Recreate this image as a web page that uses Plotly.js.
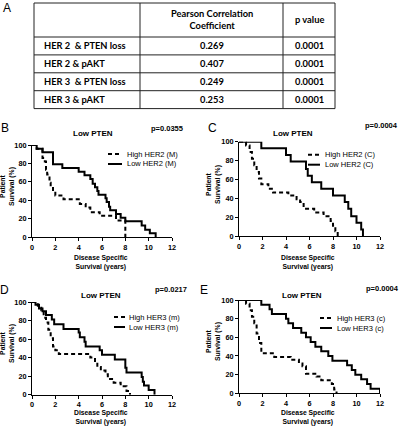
<!DOCTYPE html>
<html><head><meta charset="utf-8">
<script src="https://cdn.plot.ly/plotly-3.0.1.min.js"></script>
<style>html,body{margin:0;padding:0;background:#fff}#chart{width:400px;height:429px}</style>
</head><body><div id="chart"></div>
<script>
// ---------- Table (panel A) ----------
const tableHeader = ['', 'Pearson Correlation<br>Coefficient', 'p value'];
const tableRowLabels = ['HER 2\u00a0 & PTEN loss', 'HER 2 & pAKT', 'HER 3\u00a0 & PTEN loss', 'HER 3 & pAKT'];
const pearsonCoeffs = ['0.269', '0.407', '0.249', '0.253'];
const pValues = ['0.0001', '0.0001', '0.0001', '0.0001'];

// ---------- Kaplan-Meier data (years, % survival) ----------
// B: HER2 (M)
const highHER2M_t = [0, 0.4, 0.9, 1.1, 1.2, 1.3, 1.5, 1.6, 1.8, 2.0, 2.7, 4.1, 4.6, 5.0, 5.8, 7.2, 8.0];
const highHER2M_s = [100, 96, 86, 82, 73, 68, 59, 55, 50, 45, 41, 36, 32, 27, 23, 18, 0];
const lowHER2M_t = [0, 0.4, 0.9, 1.8, 2.6, 4.0, 4.5, 5.0, 5.2, 5.4, 5.6, 5.7, 6.3, 6.4, 6.6, 6.7, 7.2, 7.6, 8.0, 9.4, 9.7, 10.1, 10.6];
const lowHER2M_s = [100, 96, 92, 79, 75, 71, 67, 63, 58, 54, 50, 46, 42, 38, 33, 29, 25, 21, 17, 12.5, 8, 4, 0];
// C: HER2 (C)
const highHER2C_t = [0, 0.6, 0.9, 1.1, 1.3, 1.5, 1.7, 1.9, 2.5, 2.9, 4.2, 4.9, 5.2, 5.5, 6.4, 7.2, 7.8, 8.0, 8.2, 8.4];
const highHER2C_s = [100, 96, 89, 82, 75, 68, 61, 55, 50, 46, 43, 39, 36, 29, 25, 21, 16, 11, 5, 0];
const lowHER2C_t = [0, 1.9, 4.0, 4.4, 5.7, 5.85, 6.2, 7.0, 8.0, 9.0, 9.3, 9.55, 10.0, 10.4, 10.55];
const lowHER2C_s = [100, 93, 86, 79, 71, 64, 57, 50, 43, 36, 29, 21, 14, 7, 0];
// D: HER3 (m)
const highHER3m_t = [0, 0.5, 0.8, 1.0, 1.2, 1.4, 1.6, 1.8, 2.0, 2.3, 5.0, 5.4, 5.6, 5.9, 6.3, 6.5, 7.0, 7.6, 8.1, 8.4];
const highHER3m_s = [100, 96, 91, 83, 78, 70, 61, 52, 48, 44, 40, 35, 30, 26, 22, 17, 13, 9, 4, 0];
const lowHER3m_t = [0, 0.3, 0.6, 0.9, 1.2, 1.7, 1.9, 2.7, 4.0, 4.1, 4.5, 4.6, 5.8, 6.0, 7.1, 8.0, 8.1, 9.4, 9.5, 9.6, 10.0, 10.5];
const lowHER3m_s = [100, 97, 93, 90, 86, 81, 76, 71, 67, 62, 57, 52, 48, 43, 38, 29, 24, 19, 14, 10, 5, 0];
// E: HER3 (c)
const highHER3c_t = [0, 0.6, 0.9, 1.1, 1.3, 1.5, 1.7, 1.9, 3.0, 4.4, 5.1, 5.4, 5.7, 6.6, 7.0, 7.9, 8.1, 8.3];
const highHER3c_s = [100, 96, 89, 82, 75, 64, 54, 43, 39, 36, 32, 29, 21, 18, 14, 10, 4, 0];
const lowHER3c_t = [0, 1.9, 2.6, 2.8, 4.0, 4.2, 4.6, 5.3, 5.7, 6.1, 6.5, 7.0, 7.6, 7.95, 9.2, 9.6, 9.9, 10.4, 10.9, 11.2, 12.0];
const lowHER3c_s = [100, 95, 90, 85, 80, 75, 70, 65, 60, 55, 50, 45, 40, 35, 30, 25, 20, 15, 10, 5, 0];

const panelLetters = ['B', 'C', 'D', 'E'];
const panelTitles = ['Low PTEN', 'Low PTEN', 'Low PTEN', 'Low PTEN'];
const panelPValues = ['p=0.0355', 'p=0.0004', 'p=0.0217', 'p=0.0004'];
const highNames = ['High HER2 (M)', 'High HER2 (C)', 'High HER3 (m)', 'High HER3 (c)'];
const lowNames = ['Low HER2 (M)', 'Low HER2 (C)', 'Low HER3 (m)', 'Low HER3 (c)'];
const xTicks = [0, 2, 4, 6, 8, 10, 12];
const yTicks = [0, 20, 40, 60, 80, 100];
const xTitle = 'Disease Specific<br>Survival (years)';
const yTitle = 'Patient<br>Survival (%)';

// ---------- layout geometry (pixels) ----------
const W = 400, H = 429;
const px = v => v / W, py = v => 1 - v / H;
const boxes = [
  {l: 32, r: 172, t: 145, b: 237, letter: [5, 128], title: [93, 133], p: [167, 128], yt: [7, 187], xt: [101, 262], lg: [108, 122, 125, 154, 164]},
  {l: 239, r: 380, t: 141.7, b: 236, letter: [212, 128], title: [293, 133], p: [381, 125], yt: [214, 185], xt: [308, 262], lg: [308, 320, 323, 154.7, 164.7]},
  {l: 32, r: 172, t: 302, b: 394.7, letter: [4, 290], title: [101, 295], p: [171, 289], yt: [7, 344], xt: [101, 417], lg: [114, 125, 127, 317, 327]},
  {l: 239, r: 380, t: 300, b: 393.3, letter: [204, 290], title: [302, 295], p: [382, 288.5], yt: [213, 342], xt: [308, 417], lg: [320, 332, 335, 318, 328]}
];
const series = [
  [highHER2M_t, highHER2M_s, lowHER2M_t, lowHER2M_s],
  [highHER2C_t, highHER2C_s, lowHER2C_t, lowHER2C_s],
  [highHER3m_t, highHER3m_s, lowHER3m_t, lowHER3m_s],
  [highHER3c_t, highHER3c_s, lowHER3c_t, lowHER3c_s]
];

const FONT = 'Liberation Sans, Arial, sans-serif';
const TFONT = 'Lato, Carlito, sans-serif';
const dashStyle = '4px,3px';
const traces = [];
const layout = {
  width: W, height: H, margin: {l: 0, r: 0, t: 0, b: 0},
  paper_bgcolor: '#fff', plot_bgcolor: '#fff', showlegend: false,
  font: {family: FONT, color: '#000'},
  annotations: [], shapes: []
};
const ann = (text, x, y, font, extra) => layout.annotations.push(Object.assign({text, xref: 'paper', yref: 'paper', x: px(x), y: py(y), xanchor: 'center', yanchor: 'middle', showarrow: false, font: Object.assign({family: FONT, color: '#000'}, font)}, extra || {}));
const hline = (x0, x1, y, w, dash) => layout.shapes.push({type: 'line', xref: 'paper', yref: 'paper', x0: px(x0), x1: px(x1), y0: py(y), y1: py(y), line: Object.assign({color: '#000', width: w}, dash ? {dash} : {})});
const vline = (x, y0, y1, w) => layout.shapes.push({type: 'line', xref: 'paper', yref: 'paper', x0: px(x), x1: px(x), y0: py(y0), y1: py(y1), line: {color: '#222', width: w}});

// ---------- table drawn as cells ----------
const colEdges = [34, 140, 283, 335];
const headerH = 34, rowH = 17.9, tTop = 3;
const rowEdges = [tTop, tTop + headerH];
tableRowLabels.forEach((_, i) => rowEdges.push(tTop + headerH + rowH * (i + 1)));
const tBottom = rowEdges[rowEdges.length - 1];
rowEdges.forEach(y => layout.shapes.push({type: 'line', xref: 'paper', yref: 'paper', x0: px(colEdges[0]), x1: px(colEdges[3]), y0: py(y), y1: py(y), line: {color: '#222', width: 1}}));
colEdges.forEach(x => vline(x, tTop, tBottom, 1));
const tf = {family: TFONT, size: 9.3, weight: 'bold'};
tableHeader.forEach((h, c) => {
  if (!h) return;
  ann(h, (colEdges[c] + colEdges[c + 1]) / 2, tTop + headerH / 2, tf);
});
tableRowLabels.forEach((lab, r) => {
  const yc = (rowEdges[r + 1] + rowEdges[r + 2]) / 2;
  ann(lab, colEdges[0] + 8, yc, tf, {xanchor: 'left'});
  ann(pearsonCoeffs[r], (colEdges[1] + colEdges[2]) / 2, yc, tf);
  ann(pValues[r], (colEdges[2] + colEdges[3]) / 2, yc, tf);
});
ann('A', 7, 8, {size: 12});

// ---------- KM panels ----------
boxes.forEach((b, i) => {
  const n = i + 1;
  const xa = 'xaxis' + (n === 1 ? '' : n), ya = 'yaxis' + (n === 1 ? '' : n);
  const xr = 'x' + (n === 1 ? '' : n), yr = 'y' + (n === 1 ? '' : n);
  const axCommon = {
    showline: true, linecolor: '#000', linewidth: 1, ticks: 'outside', ticklen: 3, tickwidth: 1, tickcolor: '#000',
    showgrid: false, zeroline: false, fixedrange: true,
    tickfont: {family: FONT, size: 7.3, color: '#000', weight: 'bold'}
  };
  layout[xa] = Object.assign({}, axCommon, {domain: [px(b.l), px(b.r)], range: [0, 12], tickvals: xTicks, anchor: yr});
  layout[ya] = Object.assign({}, axCommon, {domain: [py(b.b), py(b.t)], range: [0, 100], tickvals: yTicks, anchor: xr});
  const [ht, hs, lt, ls] = series[i];
  traces.push({type: 'scatter', mode: 'lines', x: ht, y: hs, xaxis: xr, yaxis: yr, name: highNames[i], line: {shape: 'hv', color: '#000', width: 2, dash: dashStyle}, cliponaxis: false, hoverinfo: 'skip'});
  traces.push({type: 'scatter', mode: 'lines', x: lt, y: ls, xaxis: xr, yaxis: yr, name: lowNames[i], line: {shape: 'hv', color: '#000', width: 2}, cliponaxis: false, hoverinfo: 'skip'});

  ann(panelLetters[i], b.letter[0], b.letter[1], {size: 12});
  ann('<b>' + panelTitles[i] + '</b>', b.title[0], b.title[1], {size: 8});
  ann('<b>' + panelPValues[i] + '</b>', b.p[0], b.p[1], {size: 7.5});
  ann('<b>' + xTitle + '</b>', b.xt[0], b.xt[1], {size: 6.8});
  ann('<b>' + yTitle + '</b>', b.yt[0], b.yt[1], {size: 6.8}, {textangle: -90});
  const [x0, x1, tx, r1, r2] = b.lg;
  hline(x0, x1, r1, 2, dashStyle);
  hline(x0, x1, r2, 2);
  ann(highNames[i], tx, r1, {size: 7.5}, {xanchor: 'left'});
  ann(lowNames[i], tx, r2, {size: 7.5}, {xanchor: 'left'});
});

Plotly.newPlot('chart', traces, layout, {staticPlot: true, displayModeBar: false});
</script>
</body></html>
